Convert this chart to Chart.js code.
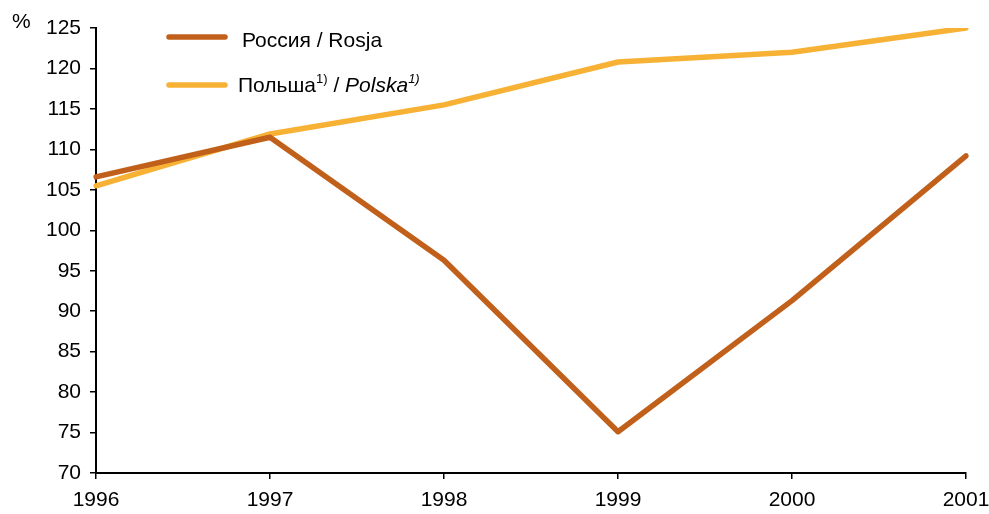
<!DOCTYPE html>
<html>
<head>
<meta charset="utf-8">
<script src="https://cdn.jsdelivr.net/npm/chart.js@4/dist/chart.umd.min.js"></script>
<style>
  html, body { margin: 0; padding: 0; background: #fff; }
  #wrap { width: 989px; height: 514px; position: relative; }
</style>
</head>
<body>
<div id="wrap"><canvas id="chart"></canvas></div>
<script>
const years = ["1996", "1997", "1998", "1999", "2000", "2001"];
const russia = [106.6, 111.5, 96.3, 75.1, 91.3, 109.2];
const poland = [105.5, 111.9, 115.5, 120.8, 122.0, 125.0];
const yTicks = [70, 75, 80, 85, 90, 95, 100, 105, 110, 115, 120, 125];

const russiaColor = "#C1601B";
const polandColor = "#F7B135";
const font = "Liberation Sans, Arial, sans-serif";

// legend drawn by hand so superscripts and italics can be used
const legendPlugin = {
    id: "manualLegend",
    afterDraw(chart) {
        const ctx = chart.ctx;
        ctx.save();
        ctx.lineCap = "round";
        ctx.lineWidth = 5.5;

        ctx.strokeStyle = russiaColor;
        ctx.beginPath();
        ctx.moveTo(169, 37);
        ctx.lineTo(225, 37);
        ctx.stroke();

        ctx.strokeStyle = polandColor;
        ctx.beginPath();
        ctx.moveTo(169, 85);
        ctx.lineTo(225, 85);
        ctx.stroke();

        ctx.fillStyle = "#000";
        ctx.textBaseline = "alphabetic";
        ctx.font = "21px " + font;
        ctx.fillText("Россия / Rosja", 242, 47);

        let x = 238;
        ctx.fillText("Польша", x, 92);
        x += ctx.measureText("Польша").width;
        ctx.font = "13px " + font;
        ctx.fillText("1)", x, 83);
        x += ctx.measureText("1)").width;
        ctx.font = "21px " + font;
        ctx.fillText(" / ", x, 92);
        x += ctx.measureText(" / ").width;
        ctx.font = "italic 21px " + font;
        ctx.fillText("Polska", x, 92);
        x += ctx.measureText("Polska").width;
        ctx.font = "italic 13px " + font;
        ctx.fillText("1)", x, 83);

        ctx.font = "21px " + font;
        ctx.fillText("%", 12, 28);
        ctx.restore();
    }
};

const ctx = document.getElementById("chart").getContext("2d");
new Chart(ctx, {
    type: "line",
    data: {
        labels: years,
        datasets: [
            {
                label: "Россия / Rosja",
                data: russia,
                borderColor: russiaColor,
                borderWidth: 5.5,
                pointRadius: 0,
                tension: 0,
                borderCapStyle: "round",
                borderJoinStyle: "round",
                fill: false,
            },
            {
                label: "Польша / Polska",
                data: poland,
                borderColor: polandColor,
                borderWidth: 5.5,
                pointRadius: 0,
                tension: 0,
                borderCapStyle: "round",
                borderJoinStyle: "round",
                fill: false,
            },
        ],
    },
    options: {
        responsive: true,
        maintainAspectRatio: false,
        animation: false,
        layout: { padding: { top: 28, right: 0, left: 0, bottom: 0 } },
        plugins: {
            legend: { display: false },
            tooltip: { enabled: false },
        },
        scales: {
            x: {
                offset: false,
                grid: { display: true, drawOnChartArea: false, tickLength: 6, color: "#000", lineWidth: 1.5 },
                border: { display: true, color: "#000", width: 2 },
                ticks: { color: "#000", font: { family: font, size: 21 }, padding: 9, maxRotation: 0 },
                afterFit(scale) {
                    scale.height = 41;
                    scale.paddingLeft = 0;
                    scale.paddingRight = 23;
                },
            },
            y: {
                min: 70,
                max: 125,
                afterBuildTicks(scale) { scale.ticks = yTicks.map(v => ({ value: v })); },
                grid: { display: true, drawOnChartArea: false, tickLength: 6, color: "#000", lineWidth: 1.5 },
                border: { display: true, color: "#000", width: 2 },
                ticks: { color: "#000", font: { family: font, size: 21 }, padding: 9 },
                afterFit(scale) { scale.width = 96; },
            },
        },
    },
    plugins: [legendPlugin],
});
</script>
</body>
</html>
